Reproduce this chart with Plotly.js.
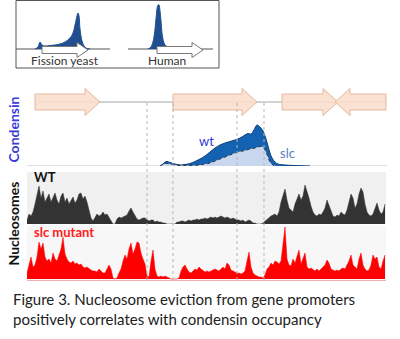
<!DOCTYPE html>
<html><head><meta charset="utf-8">
<script src="https://cdn.plot.ly/plotly-3.0.1.min.js"></script>
<style>html,body{margin:0;padding:0;background:#fff;}#chart{width:400px;height:339px;}</style>
</head><body><div id="chart"></div>
<script>
// ---------- DATA ----------
// inset (schematic profiles)
const yeastPos = [19,22,24,26,29,34,39,44,49,54,57,59,61,62,63,64,66,68,70,74];
const yeastVal = [0,2,7,4,3,3.5,4,5,7,11,16,24,33,36,33,20,8,3,1,0];
const humanPos = [132,134,136,138,140,141,142,143,144,145,146,148,150,152,154,157];
const humanVal = [0,1,4,12,30,40,44,44,38,28,16,6,3,2,1,0];
const insetTrackStart = [0,112];
const insetTrackEnd = [94,197];
const insetArrowStart = [26,141];
const insetArrowEnd = [72,187];
const insetLabels = ["Fission yeast","Human"];

// genes
const geneStart = [8,146,255,308];
const geneEnd = [73,230,311,359];
const geneStrand = [1,1,1,-1];
const promoterEdges = [120,146,210,237];

// condensin ChIP
const wtPos = [133,136,138,140,143,146,150,154,158,163,168,173,178,183,188,193,198,203,208,213,218,221,224,227,230,233,236,239,241,243,245,248,251,258,268,283];
const wtVal = [0,2,4,4.5,3.5,2.5,1.5,1,1.5,2.5,4.5,7,10,14,18,21,23,24.5,26,28,31,32.5,32,36,41,39,35,27,20,13,8,4,2,1,0.5,0];
const slcPos = [133,136,139,143,148,153,163,173,178,183,188,193,198,203,208,213,218,223,228,233,236,239,241,243,246,249];
const slcVal = [0,1.5,2.5,2,1,0.5,0.5,1,2,3,5,7,9,11,13,14.5,15.5,17,18,19.5,19,14,9,4,1,0];

// nucleosome occupancy (sampled every 2 units from 0)
const nucWT = [4,10,8,12,20,30,38,26,33,22,27,30,22,26,31,24,20,28,31,22,26,20,24,27,21,24,30,31,25,28,22,15,6,3,6,10,8,9,12,9,10,7,4,0,0,5,7,6,7,8,9,13,16,12,8,5,4,5,6,6,4,3,4,4,2,3,2,2,1,1,0,0,0,0,0,2,2,3,3,2,3,4,3,4,4,5,4,5,5,6,5,6,7,6,7,6,7,8,7,6,7,6,5,6,5,4,4,3,4,2,3,4,3,1,1,0,0,0,1,3,4,6,8,9,10,8,12,22,30,35,24,16,14,12,20,26,30,24,28,39,33,26,18,12,9,8,10,9,12,16,24,18,12,8,7,9,8,12,10,9,14,22,30,26,16,20,30,36,32,20,12,9,8,10,16,21,14,10,12,20];
const nucSlc = [6,14,22,12,14,22,37,30,36,22,18,20,16,26,20,18,24,30,42,25,20,17,16,18,15,16,14,15,12,11,12,10,9,8,8,7,10,8,6,6,10,14,10,1,0,1,6,10,18,24,20,30,36,25,30,37,36,26,20,15,3,2,18,29,10,3,2,3,2,3,2,1,0,0,0,0,1,8,12,14,10,7,6,8,10,9,12,10,8,7,8,7,8,9,10,9,8,10,12,10,16,14,9,8,7,6,6,5,6,8,18,27,12,6,4,3,2,2,1,4,10,12,16,14,18,17,15,18,35,52,20,14,13,20,16,24,29,15,20,26,12,10,11,9,8,10,8,10,12,14,19,16,10,9,8,9,8,10,11,10,14,18,24,14,12,10,20,26,14,10,8,9,14,24,20,22,12,10,18,24];
const nucStep = 2;

const caption = ["Figure 3. Nucleosome eviction from gene promoters","positively correlates with condensin occupancy"];

// ---------- helpers ----------
const W = 400, H = 339;
const px = v => v / W;
const py = v => 1 - v / H;
function arrowPoly(s, e, strand, yc, bh, hh, hl) {
  let tip, base, tail;
  if (strand > 0) { tail = s; tip = e; base = e - hl; } else { tail = e; tip = s; base = s + hl; }
  return {
    x: [tail, base, base, tip, base, base, tail, tail],
    y: [yc - bh, yc - bh, yc - hh, yc, yc + hh, yc + bh, yc + bh, yc - bh]
  };
}

const traces = [];
for (let i = 0; i < insetTrackStart.length; i++) {
  traces.push({x:[insetTrackStart[i], insetTrackEnd[i]], y:[0,0], xaxis:'x2', yaxis:'y2', mode:'lines',
    line:{color:'#555', width:1}, hoverinfo:'skip', showlegend:false});
}
traces.push({x:yeastPos, y:yeastVal, xaxis:'x2', yaxis:'y2', mode:'lines', fill:'tozeroy',
  fillcolor:'#1f4f90', line:{color:'#1f4f90', width:1, shape:'spline'}, showlegend:false});
traces.push({x:humanPos, y:humanVal, xaxis:'x2', yaxis:'y2', mode:'lines', fill:'tozeroy',
  fillcolor:'#1f4f90', line:{color:'#1f4f90', width:1, shape:'spline'}, showlegend:false});
for (let i = 0; i < insetArrowStart.length; i++) {
  const p = arrowPoly(insetArrowStart[i], insetArrowEnd[i], 1, -1, 3.5, 7.5, 11);
  traces.push({x:p.x, y:p.y, xaxis:'x2', yaxis:'y2', mode:'lines', fill:'toself',
    fillcolor:'#ffffff', line:{color:'#777', width:1}, showlegend:false});
}

traces.push({x:[geneStart[0], geneEnd[geneEnd.length-1]], y:[0,0], xaxis:'x', yaxis:'y', mode:'lines',
  line:{color:'#a6a6a6', width:1}, showlegend:false});
for (let i = 0; i < geneStart.length; i++) {
  const p = arrowPoly(geneStart[i], geneEnd[i], geneStrand[i], 0, 8, 13.5, 15);
  traces.push({x:p.x, y:p.y, xaxis:'x', yaxis:'y', mode:'lines', fill:'toself',
    fillcolor:'rgba(250,222,204,0.9)', line:{color:'#e3b99e', width:1}, showlegend:false});
}

traces.push({x:[0,360], y:[0,0], xaxis:'x', yaxis:'y3', mode:'lines', line:{color:'#bfbfbf', width:1}, showlegend:false});
traces.push({x:wtPos, y:wtVal, xaxis:'x', yaxis:'y3', mode:'lines', fill:'tozeroy',
  fillcolor:'#1463b3', line:{color:'#0d3f7a', width:1, shape:'spline'}, showlegend:false});
traces.push({x:slcPos, y:slcVal, xaxis:'x', yaxis:'y3', mode:'lines', fill:'tozeroy',
  fillcolor:'#c8d7ee', line:{color:'#333', width:1, dash:'dot', shape:'spline'}, showlegend:false});

const nucX = nucWT.map((_, i) => i * nucStep);
traces.push({x:nucX, y:nucWT, xaxis:'x', yaxis:'y4', mode:'lines', fill:'tozeroy',
  fillcolor:'#333333', line:{color:'#333333', width:0.5}, showlegend:false});
traces.push({x:nucX, y:nucSlc, xaxis:'x', yaxis:'y5', mode:'lines', fill:'tozeroy',
  fillcolor:'#ff0000', line:{color:'#ff0000', width:0.5}, showlegend:false});

const hid = {visible:false, fixedrange:true};
const shapes = [
  {type:'rect', xref:'paper', yref:'paper', x0:px(16), x1:px(219), y0:py(68), y1:py(0.5),
    line:{color:'#555', width:1}, fillcolor:'rgba(0,0,0,0)', layer:'below'},
  {type:'rect', xref:'paper', yref:'paper', x0:px(27), x1:px(386), y0:py(224), y1:py(172),
    line:{width:0}, fillcolor:'#f0f0f0', layer:'below'},
  {type:'rect', xref:'paper', yref:'paper', x0:px(27), x1:px(386), y0:py(280), y1:py(226),
    line:{width:0}, fillcolor:'#f7f7f7', layer:'below'},
  {type:'line', xref:'paper', yref:'paper', x0:px(27), x1:px(386), y0:py(280.5), y1:py(280.5),
    line:{color:'#f4b0b0', width:1}}
];
promoterEdges.forEach(v => shapes.push({type:'line', xref:'x', yref:'paper', x0:v, x1:v, y0:py(280), y1:py(103),
  line:{color:'#b5b5b5', width:1, dash:'dot'}}));

const font = 'Lato, "Open Sans", sans-serif';
function a(text, x, y, xa, size, color, extra) {
  return Object.assign({text:text, x:px(x), y:py(y), xref:'paper', yref:'paper', xanchor:xa, yanchor:'middle',
    showarrow:false, font:{family:font, size:size, color:color}}, extra || {});
}
const ann = [
  a(insetLabels[0], 65, 61, 'center', 12, '#333'),
  a(insetLabels[1], 167, 61, 'center', 12, '#333'),
  a('<b>Condensin</b>', 12.5, 130, 'center', 14, '#3b3bdb', {textangle:-90}),
  a('<b>Nucleosomes</b>', 12.5, 224, 'center', 14, '#111', {textangle:-90}),
  a('<b>WT</b>', 32, 177, 'left', 13, '#111'),
  a('<b>slc mutant</b>', 32, 232, 'left', 13, '#ff2020'),
  a('wt', 207, 141, 'center', 13, '#3636d8'),
  a('slc', 287, 153, 'center', 13, '#5b80c0'),
  a(caption[0], 11, 299, 'left', 15, '#222'),
  a(caption[1], 11, 319, 'left', 15, '#222')
];

const layout = {
  width:W, height:H, margin:{l:0,r:0,t:0,b:0}, paper_bgcolor:'#fff', plot_bgcolor:'rgba(0,0,0,0)',
  showlegend:false,
  xaxis:Object.assign({domain:[px(27), px(387)], range:[0,360]}, hid),
  xaxis2:Object.assign({domain:[px(16), px(219)], range:[0,203], anchor:'y2'}, hid),
  yaxis:Object.assign({domain:[py(118), py(86)], range:[-16,16], anchor:'x'}, hid),
  yaxis2:Object.assign({domain:[py(68), py(0)], range:[-19,49], anchor:'x2'}, hid),
  yaxis3:Object.assign({domain:[py(166), py(120)], range:[0,46], anchor:'x'}, hid),
  yaxis4:Object.assign({domain:[py(224), py(172)], range:[0,52], anchor:'x'}, hid),
  yaxis5:Object.assign({domain:[py(280), py(226)], range:[-1,53], anchor:'x'}, hid),
  shapes:shapes, annotations:ann
};
Plotly.newPlot('chart', traces, layout, {staticPlot:true, displayModeBar:false});
</script></body></html>
